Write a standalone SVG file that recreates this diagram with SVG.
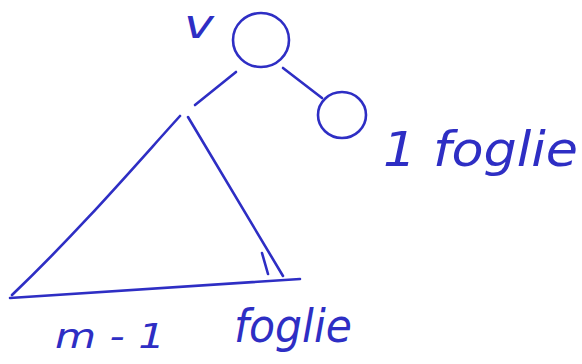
<svg xmlns="http://www.w3.org/2000/svg" width="582" height="364" viewBox="0 0 582 364">
<style>
.s{fill:none;stroke:#2e2ec4;stroke-width:2.6;stroke-linecap:round;stroke-linejoin:round}
.t{fill:#2e2ec4;font-family:"DejaVu Sans",sans-serif;font-style:italic}
</style>
<rect width="582" height="364" fill="#fff"/>
<g id="node-v">
<ellipse class="s" cx="261" cy="40" rx="28" ry="27"/>
<text class="t" x="184" y="38" font-size="40" textLength="30" lengthAdjust="spacingAndGlyphs">v</text>
</g>
<g id="node-leaf">
<ellipse class="s" cx="342" cy="115" rx="24" ry="23"/>
<text class="t" x="383" y="166" font-size="48" textLength="195" lengthAdjust="spacingAndGlyphs">1 foglie</text>
</g>
<g id="subtree">
<path class="s" d="M180,116 C140,160 80,230 12,295"/>
<path class="s" d="M188,117 L283,276"/>
<path class="s" d="M262,253 L268,274"/>
<path class="s" d="M10,298 L300,279"/>
<text class="t" x="55" y="348" font-size="34" textLength="110" lengthAdjust="spacingAndGlyphs">m - 1</text>
<text class="t" x="234" y="342" font-size="46" textLength="118" lengthAdjust="spacingAndGlyphs">foglie</text>
</g>
<g id="connectors">
<path class="s" d="M236,72 L195,105"/>
<path class="s" d="M283,68 L322,98"/>
</g>
</svg>
